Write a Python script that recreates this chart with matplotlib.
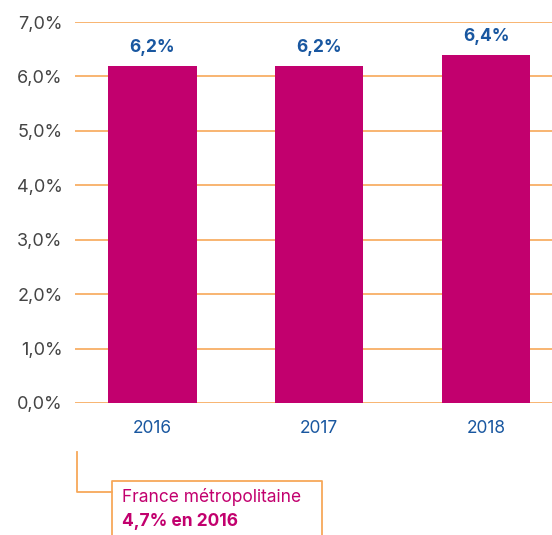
import matplotlib.pyplot as plt
from matplotlib.lines import Line2D

plt.rcParams['font.family'] = ['Inter', 'DejaVu Sans']

# Données
annees = ['2016', '2017', '2018']
taux = [6.2, 6.2, 6.4]
ticks_y = [0, 1, 2, 3, 4, 5, 6, 7]
note_titre = 'France métropolitaine'
note_valeur = '4,7% en 2016'

rose = '#C2006E'
orange = '#F7A859'
bleu = '#1957A0'
gris = '#444444'

fig = plt.figure(figsize=(5.52, 5.35), dpi=100)
ax = fig.add_axes([75 / 552, 1 - 403 / 535, 1 - 75 / 552, (403 - 22) / 535])

x = range(len(annees))
bars = ax.bar(x, taux, width=0.53, color=rose, zorder=3)

# étiquettes de valeur
for xi, v in zip(x, taux):
    ax.text(xi, v + 0.18, f'{v:.1f}%'.replace('.', ','), ha='center', va='bottom',
            color=bleu, fontsize=12.5, fontweight='bold')

ax.set_xlim(-0.464, 2.395)
ax.set_ylim(0, 7)
ax.set_yticks(ticks_y)
ax.set_yticklabels([f'{t:.1f}%'.replace('.', ',') for t in ticks_y], color=gris, fontsize=13)
ax.set_xticks(list(x))
ax.set_xticklabels(annees, color=bleu, fontsize=12.5)
ax.tick_params(axis='both', length=0)
ax.tick_params(axis='y', pad=9)
ax.tick_params(axis='x', pad=12)

ax.grid(axis='y', color=orange, linewidth=1.2, zorder=0)
ax.set_axisbelow(True)
for s in ax.spines.values():
    s.set_visible(False)

# encadré France métropolitaine
W, H = 552, 535
def fx(px):
    return px / W
def fy(py):
    return 1 - py / H

fig.add_artist(Line2D([fx(77), fx(77), fx(112)], [fy(452), fy(492), fy(492)],
                      color=orange, linewidth=1.3))
fig.add_artist(Line2D([fx(112), fx(112), fx(322), fx(322)], [fy(540), fy(481), fy(481), fy(540)],
                      color=orange, linewidth=1.3))
fig.text(fx(122), fy(497), note_titre, color=rose, fontsize=12.5, ha='left', va='center')
fig.text(fx(122), fy(521), note_valeur, color=rose, fontsize=12.5, fontweight='bold',
         ha='left', va='center')

fig.savefig('out.png', dpi=100)
